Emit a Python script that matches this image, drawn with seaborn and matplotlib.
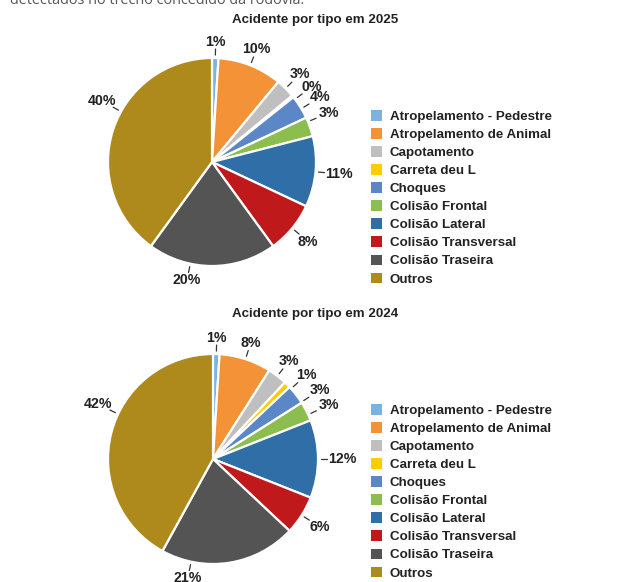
import numpy as np
import seaborn as sns
import matplotlib.pyplot as plt
from matplotlib.patches import Patch

# categories and shares (%)
tipos = ["Atropelamento - Pedestre", "Atropelamento de Animal", "Capotamento",
         "Carreta deu L", "Choques", "Colisão Frontal", "Colisão Lateral",
         "Colisão Transversal", "Colisão Traseira", "Outros"]
pct_2025 = [1.0, 10.0, 3.0, 0.3, 3.7, 3.0, 11.0, 8.0, 20.0, 40.0]
pct_2024 = [1.0, 8.0, 3.0, 1.0, 3.0, 3.0, 12.0, 6.0, 21.0, 42.0]
rotulos_2025 = ["1%", "10%", "3%", "0%", "4%", "3%", "11%", "8%", "20%", "40%"]
rotulos_2024 = ["1%", "8%", "3%", "1%", "3%", "3%", "12%", "6%", "21%", "42%"]

cores = ["#7AB2E2", "#F39237", "#BFBFBF", "#FFCC00", "#5B87C7",
         "#8CBD4F", "#2F6EA6", "#C0191C", "#545454", "#AE8A1C"]

sns.set_theme(style="white")
plt.rcParams['font.family'] = ['Liberation Sans', 'DejaVu Sans']
palette = sns.color_palette(cores)

W, H = 619, 582
fig = plt.figure(figsize=(W / 100, H / 100), dpi=100)
ax = fig.add_axes([0, 0, 1, 1])

# label angle nudges (degrees), the original spreads crowded labels a bit
nudge_2025 = {3: 2, 4: 1, 5: -3, 8: 12, 9: 11}
nudge_2024 = {3: 3, 4: 5, 5: 2, 8: 21, 9: 11}


def draw_pie(vals, rotulos, cx, cy, r, nudge):
    wedges, _ = ax.pie(vals, colors=palette, startangle=90, counterclock=False,
                       center=(cx, H - cy), radius=r, frame=True,
                       wedgeprops=dict(edgecolor="white", linewidth=1.6))
    tot = float(sum(vals))
    cum = np.cumsum([0] + list(vals)) / tot
    x0, y0 = cx, H - cy
    for i, lab in enumerate(rotulos):
        th = np.deg2rad((cum[i] + cum[i + 1]) / 2 * 360 + nudge.get(i, 0))
        dx, dy = np.sin(th), np.cos(th)
        ax.plot([x0 + dx * (r + 3), x0 + dx * (r + 9)],
                [y0 + dy * (r + 3), y0 + dy * (r + 9)],
                color="#333333", lw=0.9)
        rt = r + 16 + 8 * dx ** 2
        ax.text(x0 + dx * rt, y0 + dy * rt, lab, ha="center", va="center",
                fontsize=10.2, fontweight="bold", color="#222222")
    return wedges


draw_pie(pct_2025, rotulos_2025, 212, 162, 104, nudge_2025)
draw_pie(pct_2024, rotulos_2024, 213, 459, 105, nudge_2024)

ax.set_xlim(0, W)
ax.set_ylim(0, H)
ax.axis("off")

fig.text(315 / W, 1 - 20 / H, "Acidente por tipo em 2025", ha="center", va="center",
         fontsize=9.6, fontweight="bold", color="#222222")
fig.text(315 / W, 1 - 314 / H, "Acidente por tipo em 2024", ha="center", va="center",
         fontsize=9.6, fontweight="bold", color="#222222")
fig.text(10 / W, 1 - 4 / H, "detectados no trecho concedido da rodovia.",
         ha="left", va="baseline", fontsize=10.4, color="#555555",
         family=["Open Sans", "DejaVu Sans"])

handles = [Patch(facecolor=c, edgecolor="none") for c in palette]
for top in (110, 404):
    fig.legend(handles, tipos, loc="upper left",
               bbox_to_anchor=(371 / W, 1 - top / H), frameon=False,
               borderpad=0, borderaxespad=0, handlelength=0.85, handleheight=0.85,
               handletextpad=0.55, labelspacing=0.385,
               prop=dict(size=9.6, weight="bold"), labelcolor="#222222")

fig.savefig("out.png", dpi=100)
